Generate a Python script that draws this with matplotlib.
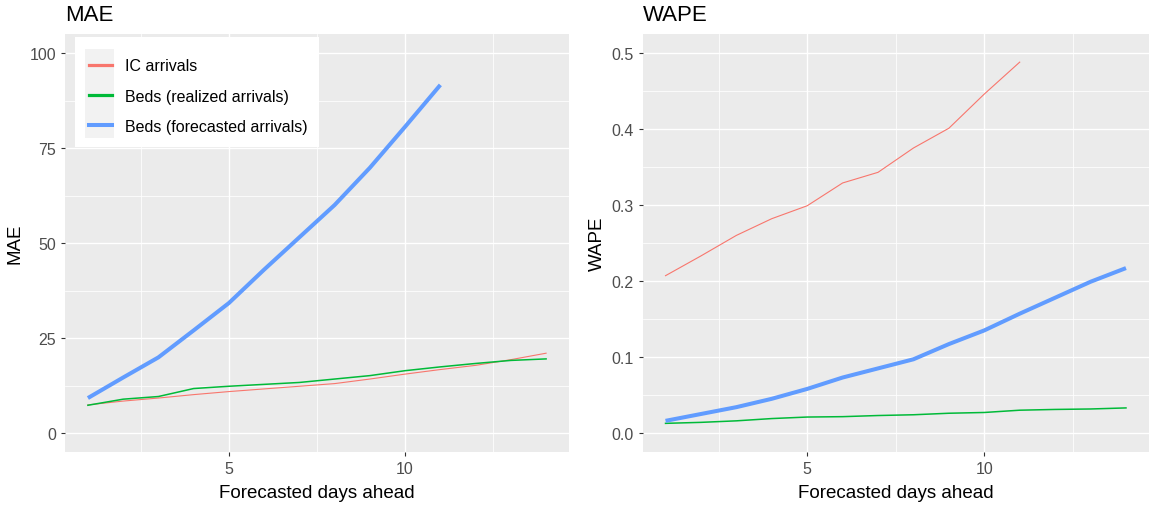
import numpy as np
import matplotlib
matplotlib.use("Agg")
import matplotlib.pyplot as plt
from matplotlib.lines import Line2D
from matplotlib.patches import Rectangle
from matplotlib.ticker import MultipleLocator

plt.rcParams['font.family'] = ['Liberation Sans', 'DejaVu Sans']

# forecast horizon in days
days = list(range(1, 15))
days_short = list(range(1, 12))

series_names = ['IC arrivals', 'Beds (realized arrivals)', 'Beds (forecasted arrivals)']
series_colors = ['#F8766D', '#00BA38', '#619CFF']

# MAE per horizon
mae_ic = [7.4, 8.4, 9.2, 10.1, 10.9, 11.6, 12.3, 13.0, 14.2, 15.5, 16.7, 17.8, 19.3, 21.0]
mae_real = [7.3, 8.9, 9.6, 11.7, 12.3, 12.8, 13.3, 14.2, 15.1, 16.4, 17.4, 18.3, 19.1, 19.5]
mae_fc = [9.2, 14.6, 19.9, 27.0, 34.2, 43.0, 51.5, 60.0, 69.8, 80.6, 91.6]

# WAPE per horizon
wape_ic = [0.207, 0.233, 0.260, 0.282, 0.299, 0.329, 0.343, 0.375, 0.401, 0.446, 0.488]
wape_real = [0.0127, 0.014, 0.016, 0.019, 0.021, 0.0215, 0.023, 0.024, 0.026, 0.027,
             0.030, 0.031, 0.0316, 0.033]
wape_fc = [0.016, 0.025, 0.034, 0.045, 0.058, 0.073, 0.085, 0.097, 0.117, 0.135,
           0.157, 0.178, 0.199, 0.217]

W, H = 1149, 506
fig = plt.figure(figsize=(W / 100, H / 100), dpi=100)

def px_axes(x0, y0, x1, y1):
    # pixel box (top-left origin) -> figure axes
    return fig.add_axes([x0 / W, 1 - y1 / H, (x1 - x0) / W, (y1 - y0) / H])

ax1 = px_axes(65, 35, 569, 453)
ax2 = px_axes(642.5, 35, 1149, 453)

def style(ax, title, ylabel, ymax, ystep):
    ax.set_facecolor('#EBEBEB')
    for s in ax.spines.values():
        s.set_visible(False)
    ax.set_xlim(0.35, 14.65)
    ax.set_ylim(-0.05 * ymax, 1.05 * ymax)
    ax.xaxis.set_major_locator(MultipleLocator(5))
    ax.xaxis.set_minor_locator(MultipleLocator(2.5))
    ax.yaxis.set_major_locator(MultipleLocator(ystep))
    ax.yaxis.set_minor_locator(MultipleLocator(ystep / 2))
    ax.grid(which='major', color='white', lw=1.0)
    ax.grid(which='minor', color='white', lw=0.55)
    ax.set_axisbelow(True)
    ax.tick_params(which='major', length=3, width=0.8, color='#333333',
                   labelsize=11.5, labelcolor='#4D4D4D', pad=3.5)
    ax.tick_params(which='minor', length=0)
    ax.set_title(title, loc='left', fontsize=16, pad=10)
    ax.set_xlabel('Forecasted days ahead', fontsize=13.5, labelpad=5.5)
    ax.set_ylabel(ylabel, fontsize=13.5, labelpad=4)

style(ax1, 'MAE', 'MAE', 100, 25)
ax1.yaxis.set_major_formatter(matplotlib.ticker.FormatStrFormatter('%d'))
style(ax2, 'WAPE', 'WAPE', 0.5, 0.1)
ax2.yaxis.set_major_formatter(matplotlib.ticker.FormatStrFormatter('%.1f'))

widths = [0.8, 1.1, 2.9]

ax1.plot(days, mae_ic, color=series_colors[0], lw=widths[0])
ax1.plot(days, mae_real, color=series_colors[1], lw=widths[1])
ax1.plot(days_short, mae_fc, color=series_colors[2], lw=widths[2], solid_capstyle='butt')

ax2.plot(days_short, wape_ic, color=series_colors[0], lw=widths[0])
ax2.plot(days, wape_real, color=series_colors[1], lw=widths[1])
ax2.plot(days, wape_fc, color=series_colors[2], lw=widths[2], solid_capstyle='butt')

# legend box and key background inside the MAE panel
def to_ax(px, py):
    return (px - 65) / 504, 1 - (py - 35) / 418

bx0, by0 = to_ax(75, 148)
bx1, by1 = to_ax(319, 38)
ax1.add_patch(Rectangle((bx0, by0), bx1 - bx0, by1 - by0, transform=ax1.transAxes,
                        facecolor='white', edgecolor='none', zorder=3))
kx0, ky0 = to_ax(85, 139)
kx1, ky1 = to_ax(114, 50)
ax1.add_patch(Rectangle((kx0, ky0), kx1 - kx0, ky1 - ky0, transform=ax1.transAxes,
                        facecolor='#F2F2F2', edgecolor='none', zorder=3.5))

handles = [Line2D([], [], color=c, lw=lw) for c, lw in zip(series_colors, [2.3, 2.3, 2.9])]
ax1.legend(handles, series_names, loc='upper left', bbox_to_anchor=to_ax(89, 59.5),
           frameon=False, fontsize=11.5, handlelength=1.45, handletextpad=0.8,
           labelspacing=0.95, borderpad=0, borderaxespad=0)

fig.savefig('out.png', dpi=100)
